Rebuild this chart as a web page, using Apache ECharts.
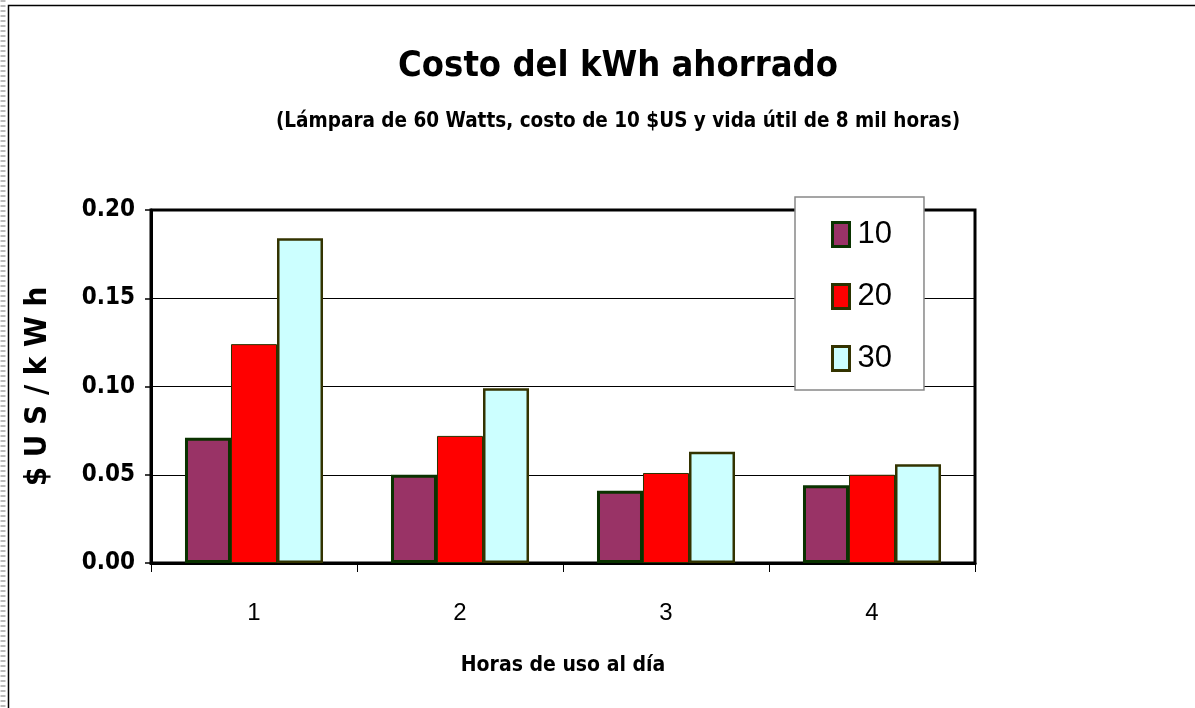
<!DOCTYPE html>
<html>
<head>
<meta charset="utf-8">
<script src="https://cdn.jsdelivr.net/npm/echarts@6/dist/echarts.min.js"></script>
<style>
  html, body { margin: 0; padding: 0; background: #fff; }
  #chart { width: 1195px; height: 708px; }
</style>
</head>
<body>
<div id="chart"></div>
<script>
const categories = ["1", "2", "3", "4"];
const seriesNames = ["10", "20", "30"];
const values10 = [0.071, 0.050, 0.041, 0.044];
const values20 = [0.124, 0.072, 0.051, 0.050];
const values30 = [0.184, 0.099, 0.063, 0.056];
const yTicks = [0, 0.05, 0.1, 0.15, 0.2];

const font = "'DejaVu Sans Condensed', 'Liberation Sans', Arial, sans-serif";
const plain = "'Liberation Sans', Arial, sans-serif";

const chart = echarts.init(document.getElementById("chart"));

const barStyles = [
  { color: "#993366", borderColor: "#0a3300", borderWidth: 3 },
  { color: "#ff0000", borderColor: "#2a3300", borderWidth: 1 },
  { color: "#ccffff", borderColor: "#333300", borderWidth: 2.5 },
];
const allValues = [values10, values20, values30];

chart.setOption({
  animation: false,
  title: [
    {
      text: "Costo del kWh ahorrado",
      left: 613,
      textAlign: "center",
      top: 44,
      textStyle: { fontFamily: font, fontSize: 36, fontWeight: "bold", color: "#000" },
    },
    {
      text: "(Lámpara de 60 Watts, costo de 10 $US y vida útil de 8 mil horas)",
      left: 613,
      textAlign: "center",
      top: 106,
      textStyle: { fontFamily: font, fontSize: 20.5, fontWeight: "bold", color: "#000" },
    },
  ],
  graphic: [
    {
      type: "rect",
      shape: { x: 8.5, y: 5.5, width: 1200, height: 720 },
      style: { fill: "none", stroke: "#000", lineWidth: 1.5 },
      silent: true,
    },
    {
      type: "line",
      shape: { x1: 3, y1: 0, x2: 3, y2: 708 },
      style: { stroke: "#bbb", lineWidth: 5, lineDash: [2, 3] },
      silent: true,
    },
  ],
  legend: {
    orient: "vertical",
    left: 795,
    top: 197,
    data: seriesNames,
    icon: "rect",
    itemWidth: 17,
    itemHeight: 24,
    itemGap: 31,
    itemStyle: { borderWidth: 3 },
    padding: [22, 32, 16, 36],
    backgroundColor: "#fff",
    borderColor: "#888",
    borderWidth: 1.5,
    textStyle: { fontFamily: plain, fontSize: 31, color: "#000", padding: [0, 0, 0, 3] },
  },
  grid: {
    left: 151,
    right: 220,
    top: 210,
    bottom: 145,
    show: true,
    borderColor: "#000",
    borderWidth: 3,
  },
  xAxis: {
    type: "category",
    data: categories,
    name: "Horas de uso al día",
    nameLocation: "middle",
    nameGap: 92,
    nameTextStyle: { fontFamily: font, fontSize: 21, fontWeight: "bold", color: "#000" },
    axisLine: { lineStyle: { color: "#000", width: 3 } },
    axisTick: { show: true, length: 9, lineStyle: { color: "#000", width: 1 } },
    axisLabel: {
      margin: 38,
      fontFamily: plain,
      fontSize: 24,
      color: "#000",
    },
  },
  yAxis: {
    type: "value",
    min: yTicks[0],
    max: yTicks[yTicks.length - 1],
    interval: 0.05,
    name: "$ U S / k W h",
    nameLocation: "middle",
    nameGap: 98,
    nameTextStyle: { fontFamily: font, fontSize: 31, fontWeight: "bold", color: "#000" },
    axisLine: { show: true, lineStyle: { color: "#000", width: 3 } },
    axisTick: { show: true, length: 6, lineStyle: { color: "#000", width: 1.5 } },
    axisLabel: {
      margin: 16,
      fontFamily: font,
      fontSize: 24,
      fontWeight: "bold",
      color: "#000",
      formatter: (v) => v.toFixed(2),
    },
    splitLine: { lineStyle: { color: "#000", width: 1 } },
  },
  series: seriesNames.map((name, i) => ({
    name,
    type: "bar",
    data: allValues[i],
    barGap: "0%",
    barCategoryGap: "33%",
    itemStyle: barStyles[i],
    z: 3,
  })),
});
</script>
</body>
</html>
